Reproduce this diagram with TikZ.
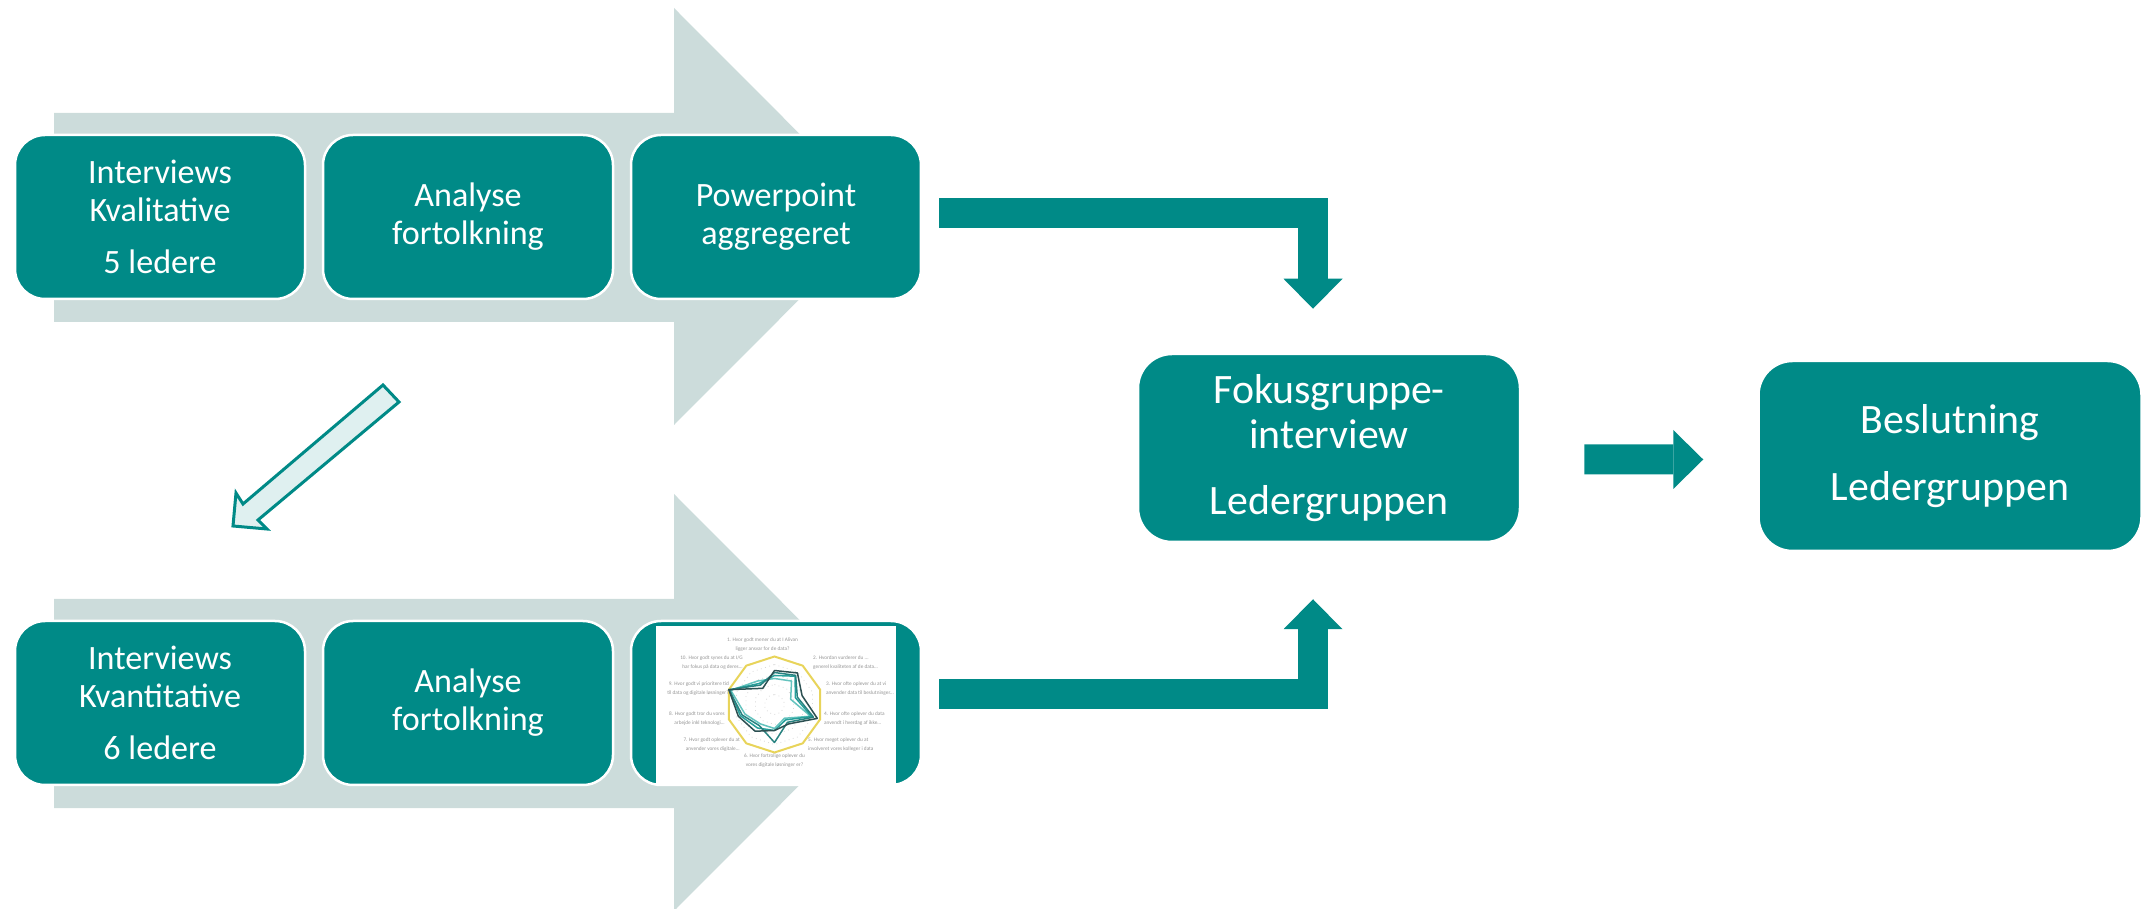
\documentclass[tikz,border=0pt]{standalone}
\usepackage{fontspec}
\setmainfont{Carlito}
\usepackage{tikz}
\usetikzlibrary{positioning,arrows.meta}
\definecolor{tealbox}{RGB}{0,138,135}
\definecolor{flowbg}{RGB}{204,220,219}
\definecolor{hollow}{RGB}{223,240,240}
\definecolor{gridgold}{RGB}{232,212,90}
\definecolor{chartdark}{RGB}{44,80,82}
\definecolor{chartteal}{RGB}{40,130,128}
\definecolor{chartmid}{RGB}{38,160,155}
\definecolor{chartlight}{RGB}{100,195,190}
\definecolor{labelgray}{RGB}{150,150,150}
\tikzset{
  stepbox/.style={fill=tealbox, draw=white, line width=0.25mm, rounded corners=3mm, text=white, align=center,
    minimum width=29mm, minimum height=16.4mm, inner sep=0pt, font=\fontsize{9.7}{10.8}\selectfont},
  bigbox/.style={stepbox, minimum width=38.2mm, minimum height=18.8mm, rounded corners=3.4mm,
    font=\fontsize{11.9}{13}\selectfont},
  flowarrow/.style={draw=tealbox, line width=3mm, -{Triangle[width=5.9mm,length=3mm,line width=0pt]}},
  chartlabel/.style={text=labelgray, font=\fontsize{1.5}{2.5}\selectfont, align=center, inner sep=0pt},
  chartgrid/.style={draw=gray!30, line width=0.08mm, densely dotted},
  series/.style={draw=#1, line width=0.15mm, line join=round},
}

\begin{document}
\begin{tikzpicture}[x=0.1mm, y=-0.1mm]
\useasboundingbox (0,0) rectangle (2142,909);
% grey process arrows behind the rows
\foreach \dy in {0,486}
  \fill[flowbg] (54,113+\dy) -- (674,113+\dy) -- (674,8+\dy) -- (882,216.5+\dy)
    -- (674,425+\dy) -- (674,322+\dy) -- (54,322+\dy) -- cycle;

% row 1
\node[stepbox] (int1) at (160,217) {Interviews\\Kvalitative\\[4pt]5 ledere};
\node[stepbox, right=1.55mm of int1] (ana1) {Analyse\\fortolkning};
\node[stepbox, right=1.55mm of ana1] (pp1) {Powerpoint\\aggregeret};

% row 2
\node[stepbox] (int2) at (160,703) {Interviews\\Kvantitative\\[4pt]6 ledere};
\node[stepbox, right=1.55mm of int2] (ana2) {Analyse\\fortolkning};
\node[stepbox, right=1.55mm of ana2] (chart) {};

% hollow arrow between the rows
\draw[fill=hollow, draw=tealbox, line width=0.3mm, line join=miter]
  (383,385) -- (399,402) -- (258,520) -- (267,529) -- (233,526) -- (236,493) -- (243,504) -- cycle;

% radar chart picture
\begin{scope}[shift={(chart.center)}, x=0.1mm, y=0.1mm]
  \fill[white] (-119.5,-82) rectangle (119.5,77);
  \begin{scope}[shift={(-1.5,-1.5)}]
    \foreach \r in {10,20,30,40}
      \draw[chartgrid] (90:\r) \foreach \a in {54,18,...,-234}{ -- (\a:\r)} -- cycle;
    \draw[draw=gridgold, line width=0.2mm] (90:48) \foreach \a in {54,18,...,-234}{ -- (\a:48)} -- cycle;
    \draw[series=chartlight] (90:26) -- (54:29) -- (18:17) -- (-18:38) -- (-54:17) -- (-90:24) -- (-126:24) -- (-162:31) -- (162:46) -- (126:29) -- cycle;
    \draw[series=chartmid] (90:29) -- (54:35) -- (18:22) -- (-18:39) -- (-54:19) -- (-90:26) -- (-126:29) -- (-162:36) -- (162:47) -- (126:26) -- cycle;
    \draw[series=chartteal] (90:32) -- (54:36) -- (18:24) -- (-18:41) -- (-54:22) -- (-90:38) -- (-126:26) -- (-162:34) -- (162:48) -- (126:24) -- cycle;
    \draw[series=chartdark] (90:34) -- (54:39) -- (18:29) -- (-18:45) -- (-54:24) -- (-90:26) -- (-126:33) -- (-162:38) -- (162:48) -- (126:20) -- cycle;
    \node[chartlabel] (q1) at (-12,60) {1. Hvor godt mener du at I Alivan\\ligger ansvar for de data?};
    \node[chartlabel, anchor=west, align=left] (q2) at (38,42) {2. Hvordan vurderer du ...\\generel kvaliteten af de data...};
    \node[chartlabel, anchor=west, align=left] (q3) at (51,16) {3. Hvor ofte oplever du at vi\\anvender data til beslutninger...};
    \node[chartlabel, anchor=west, align=left] (q4) at (49,-14) {4. Hvor ofte oplever du data\\anvendt i hverdag af ikke...};
    \node[chartlabel, anchor=west, align=left] (q5) at (33,-40) {5. Hvor meget oplever du at\\involveret vores kolleger i data};
    \node[chartlabel] (q6) at (0,-56) {6. Hvor fortrolige oplever du\\vores digitale løsninger er?};
    \node[chartlabel, anchor=east, align=right] (q7) at (-34,-40) {7. Hvor godt oplever du at\\anvender vores digitale...};
    \node[chartlabel, anchor=east, align=right] (q8) at (-49,-14) {8. Hvor godt tror du vores\\arbejde inkl teknologi...};
    \node[chartlabel, anchor=east, align=right] (q9) at (-45,16) {9. Hvor godt vi prioritere tid\\til data og digitale løsninger?};
    \node[chartlabel, anchor=east, align=right] (q10) at (-31,42) {10. Hvor godt synes du at I/G\\har fokus på data og deres...};
  \end{scope}
\end{scope}

% focus group and decision
\node[bigbox] (fokus) at (1329,448) {Fokusgruppe-\\interview\\[5.7pt]Ledergruppen};
\node[bigbox, minimum width=38.3mm, minimum height=19mm] (beslut) at (1950,456) {Beslutning\\[6.3pt]Ledergruppen};

% block arrows
\draw[flowarrow] ([xshift=1.7mm,yshift=0.35mm]pp1.east) -| ([xshift=-1.6mm,yshift=4.4mm]fokus.north);
\draw[flowarrow] ([xshift=1.7mm,yshift=0.85mm]chart.east) -| ([xshift=-1.6mm,yshift=-5.6mm]fokus.south);
\draw[flowarrow] ([xshift=6.3mm,yshift=-1.15mm]fokus.east) -- ([xshift=-5.4mm,yshift=-0.35mm]beslut.west);
\end{tikzpicture}
\end{document}
